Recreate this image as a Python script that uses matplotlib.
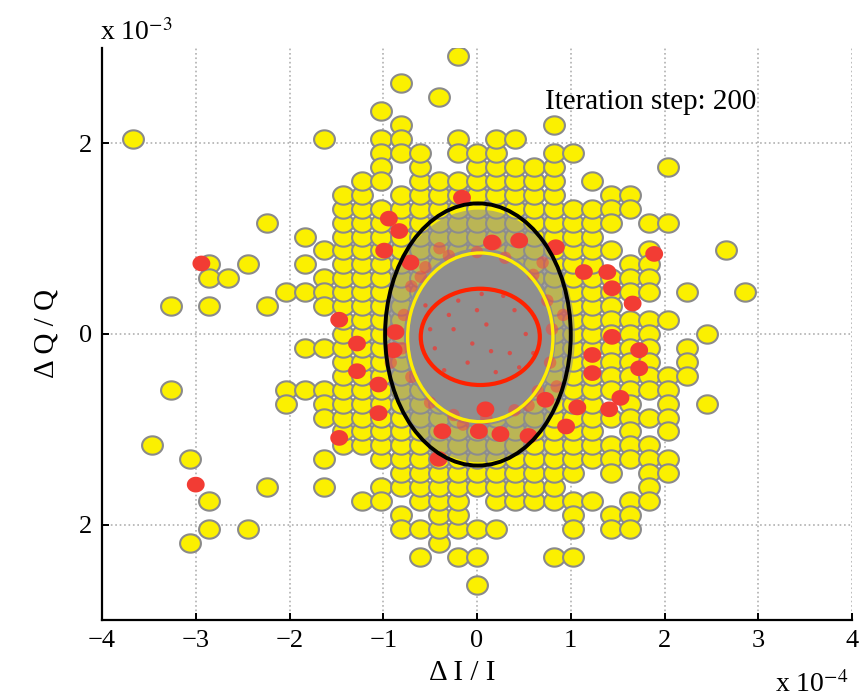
import matplotlib
matplotlib.use("Agg")
import matplotlib.pyplot as plt
from matplotlib.patches import Ellipse
from matplotlib.path import Path
import numpy as np

plt.rcParams['font.family'] = ['Liberation Serif', 'DejaVu Serif']
plt.rcParams['mathtext.fontset'] = 'stix'

# ---------------- data (x in units of 1e-4, y in units of 1e-3) ----------------
grid_dx = 0.204      # column spacing of the yellow particle grid
grid_dy = 0.146      # row spacing of the yellow particle grid

# occupied rows per column index; tuples are contiguous runs (lo, hi)
yellow_cols = {
    -18: [14],
    -17: [-8],
    -16: [2, -4],
    -15: [-9, -15],
    -14: [5, 4, 2, -12, -14],
    -13: [4],
    -12: [5, -14],
    -11: [8, 2, -11],
    -10: [3, -4, -5],
    -9: [7, 5, 3, -1, -4],
    -8: [14, 6, 4, 3, 2, -1, -4, -5, -6, -9, -11],
    -7: [(-8, 10)],
    -6: [(-8, 11), -12],
    -5: [16, 14, 13, 12, 11, (-9, 9), -11, -12],
    -4: [18, 15, 14, 13, (-11, 10), -13, -14],
    -3: [(-12, 13), -14, -16],
    -2: [17, (-15, 11)],
    -1: [20, 14, 13, (-14, 11), -16],
    0: [(-11, 13), -14, -16, -18],
    1: [(-12, 14), -14],
    2: [14, (-12, 12)],
    3: [(-12, 12)],
    4: [15, (-12, 13), -16],
    5: [13, (-10, 9), -12, -13, -14, -16],
    6: [11, (-9, 9), -12],
    7: [10, 9, 8, 6, 4, 3, 2, 1, 0, -1, -2, -3, -4, -6, -8, -9, -10, -13, -14],
    8: [10, 9, 5, 4, 3, 1, 0, -1, -2, -3, -4, -5, -6, -7, -8, -9, -12, -13, -14],
    9: [8, 6, 5, 4, 3, 1, 0, -1, -2, -3, -4, -6, -8, -9, -10, -11, -12],
    10: [12, 8, 1, -3, -4, -5, -6, -7, -9, -10],
    11: [3, -1, -2, -3],
    12: [0, -5],
    13: [6],
    14: [3],
}

# large red particles
red_x = [-2.94, -3.00, -0.94, -0.83, -0.99, -0.71, -0.16, 0.16, 0.45, 0.84,
         1.14, 1.44, 1.66, 1.89, 1.39, -1.47, -1.28, -1.28, -1.05, -0.89,
         -0.87, 1.23, 1.23, 1.44, 1.73, 1.73, 1.53, 1.41, 1.07, 0.73,
         0.55, 0.25, 0.02, -0.37, 0.09, -1.05, -1.47, -0.41, 0.95]
red_y = [0.74, -1.58, 1.21, 1.08, 0.875, 0.75, 1.43, 0.96, 0.98, 0.91,
         0.65, 0.48, 0.32, 0.84, 0.65, 0.15, -0.10, -0.39, -0.53, -0.17,
         0.02, -0.22, -0.41, -0.03, -0.17, -0.36, -0.67, -0.79, -0.77, -0.69,
         -1.07, -1.05, -1.02, -1.02, -0.79, -0.83, -1.09, -1.31, -0.97]

# faint red ring particles around the core
ring_x = [-0.70, -0.55, -0.30, 0.00, 0.30, 0.60, 0.75, 0.80, 0.78, 0.65,
          0.40, 0.10, -0.25, -0.50, -0.70, -0.80, -0.78, -0.60, 0.55, 0.92,
          -0.92, 0.20, -0.15, 0.70, -0.40, 0.85]
ring_y = [0.50, 0.70, 0.82, 0.86, 0.80, 0.62, 0.35, 0.05, -0.30, -0.60,
          -0.80, -0.88, -0.85, -0.72, -0.45, -0.15, 0.20, 0.60, -0.75, 0.20,
          -0.30, 0.95, -0.95, 0.75, 0.90, -0.55]

# small red specks inside the core
speck_x = [-0.30, 0.10, 0.35, -0.10, 0.40, -0.45, 0.20, -0.20, 0.05, -0.50,
           0.52, -0.05, 0.28, -0.35, 0.15, -0.25, 0.45, 0.00, -0.55, 0.60]
speck_y = [0.20, 0.10, -0.20, -0.30, 0.25, -0.15, -0.40, 0.35, 0.42, 0.05,
           0.00, -0.10, 0.40, -0.38, -0.18, 0.05, -0.35, 0.25, 0.30, -0.20]

# RMS ellipses: (centre x, centre y, full width, full height)
ell_black = (0.01, -0.005, 1.98, 2.75)
ell_yellow = (0.035, -0.035, 1.55, 1.77)
ell_red = (0.035, -0.03, 1.27, 1.01)
cloud_core = (0.03, -0.03, 1.62, 1.86)
cloud_halo = (0.02, -0.02, 2.05, 2.65)
cloud_base = (0.02, -0.02, 2.5, 3.3)

x_ticks = [-4, -3, -2, -1, 0, 1, 2, 3, 4]
y_ticks = [-2, 0, 2]
y_ticklabels = ['2', '0', '2']
title_text = 'Iteration step: 200'

# ---------------- expand grid occupancy ----------------
yx, yy = [], []
for c, rows in yellow_cols.items():
    for item in rows:
        if isinstance(item, tuple):
            rr = list(range(item[0], item[1] + 1))
        else:
            rr = [item]
        for r in rr:
            yx.append(c * grid_dx)
            yy.append(r * grid_dy)

# ---------------- figure ----------------
fig = plt.figure(figsize=(8.63, 7.00), dpi=100)
ax = fig.add_axes([102 / 863, 1 - 620 / 700, 750 / 863, 572 / 700])

ax.set_xlim(-4, 4)
ax.set_ylim(-3, 3)

ax.grid(True, linestyle=':', color='#b0b0b0', linewidth=1.2, zorder=0)
ax.set_axisbelow(True)

# slightly elliptic marker (wider than tall)
t = np.linspace(0, 2 * np.pi, 60)
oval = Path(np.column_stack([np.cos(t), 0.88 * np.sin(t)]), closed=True)

gray = '#8f8f8f'

def add_ell(spec, **kw):
    e = Ellipse((spec[0], spec[1]), spec[2], spec[3], **kw)
    ax.add_patch(e)

add_ell(cloud_base, facecolor=gray, edgecolor='none', alpha=0.55, zorder=1)

ax.scatter(yx, yy, s=225, marker=oval, facecolor='#fbf000',
           edgecolor='#8a8a8a', linewidth=1.5, zorder=2)

add_ell(cloud_halo, facecolor=gray, edgecolor='none', alpha=0.6, zorder=3)
add_ell(cloud_core, facecolor=gray, edgecolor='none', zorder=3.5)

ax.scatter(ring_x, ring_y, s=80, marker='o', facecolor='#f04a40',
           edgecolor='none', alpha=0.55, zorder=4)
ax.scatter(red_x, red_y, s=165, marker=oval, facecolor='#f23c34',
           edgecolor='none', zorder=4.5)
ax.scatter(speck_x, speck_y, s=10, marker='o', facecolor='#e8403a',
           edgecolor='none', alpha=0.8, zorder=4.6)

add_ell(ell_black, facecolor='none', edgecolor='black', linewidth=2.8, zorder=6)
add_ell(ell_yellow, facecolor='none', edgecolor='#ffee00', linewidth=2.4, zorder=6)
add_ell(ell_red, facecolor='none', edgecolor='#ff2200', linewidth=3.0, zorder=6)

for s in ['top', 'right']:
    ax.spines[s].set_visible(False)
for s in ['left', 'bottom']:
    ax.spines[s].set_linewidth(1.6)

ax.set_xticks(x_ticks)
ax.set_xticklabels(['\u2212' + str(-v) if v < 0 else str(v) for v in x_ticks])
ax.set_yticks(y_ticks)
ax.set_yticklabels(y_ticklabels)
ax.tick_params(direction='in', length=5, width=1.4, labelsize=19, pad=7)

ax.set_xlabel('\u0394 I / I', fontsize=21)
ax.xaxis.set_label_coords(0.48, -0.07)
ax.set_ylabel('\u0394 Q / Q', fontsize=21, labelpad=14)

ax.text(0.59, 0.905, title_text, transform=ax.transAxes, fontsize=21,
        ha='left', va='center')

fig.text(100 / 863, 1 - 40 / 700, r'x 10$^{-3}$', fontsize=20, ha='left', va='baseline')
fig.text(775 / 863, 1 - 692 / 700, r'x 10$^{-4}$', fontsize=20, ha='left', va='baseline')

fig.savefig('out.png', dpi=100)
